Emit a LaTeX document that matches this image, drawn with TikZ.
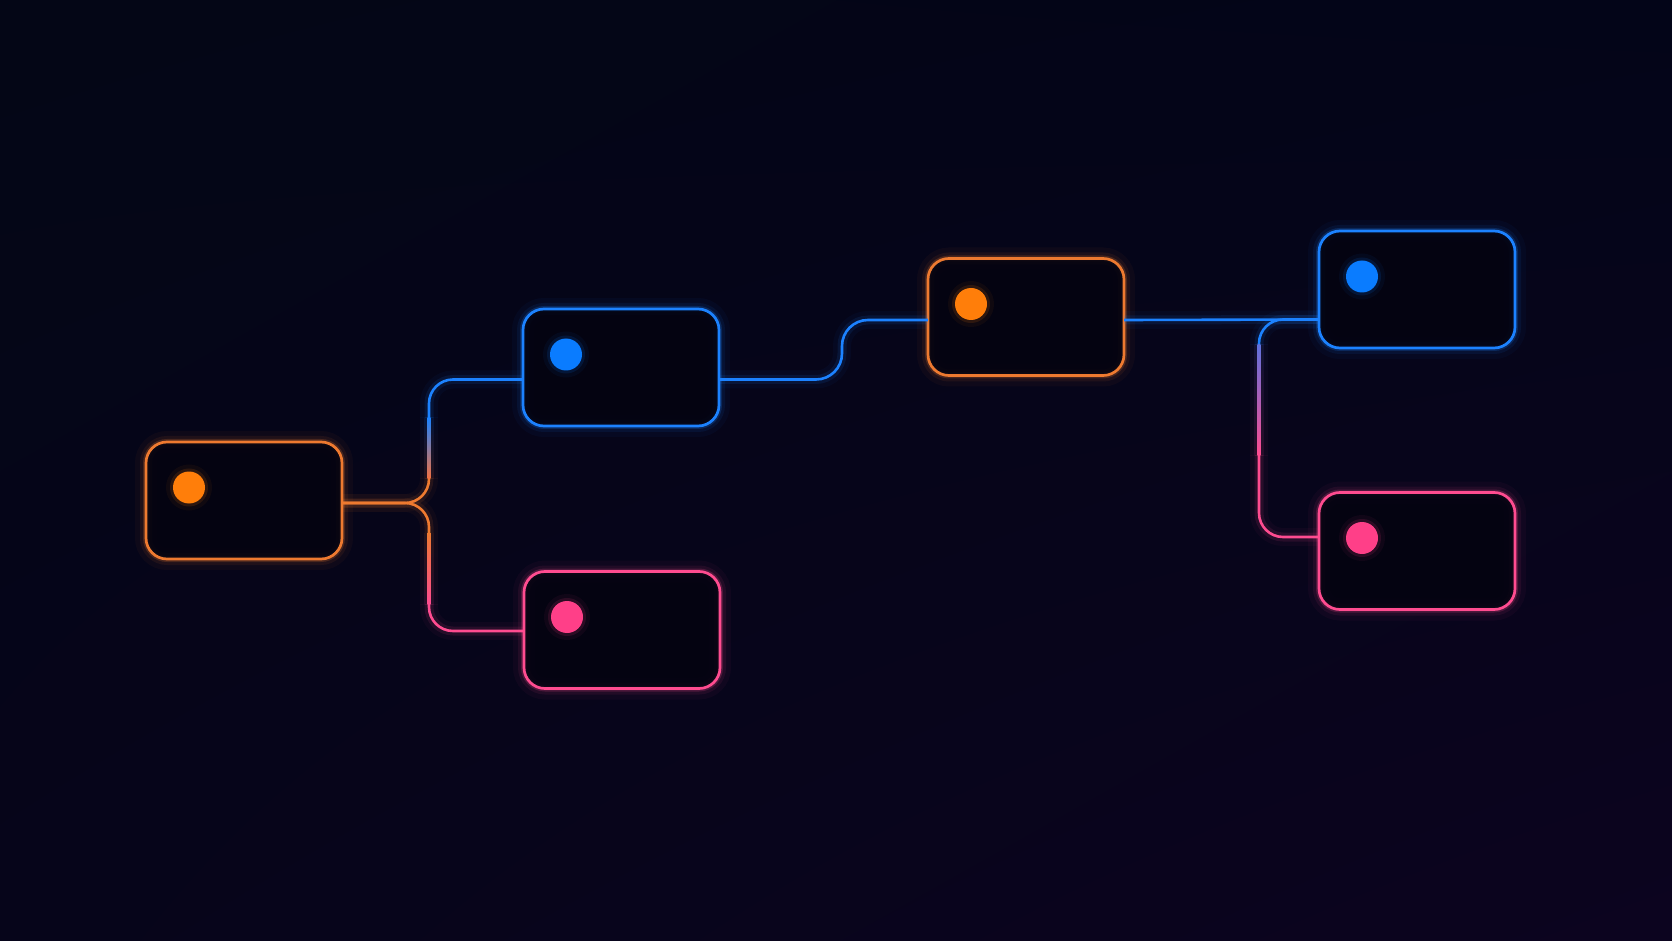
\documentclass[tikz,border=0pt]{standalone}
\usetikzlibrary{shadings}
\definecolor{ember}{HTML}{EE7A30}
\definecolor{emberdot}{HTML}{FF7E0A}
\definecolor{azure}{HTML}{1C82FF}
\definecolor{azuredot}{HTML}{0A7CFF}
\definecolor{rose}{HTML}{FF4C90}
\definecolor{rosedot}{HTML}{FF3F88}
\definecolor{cardfill}{HTML}{040310}
\definecolor{bgul}{HTML}{040616}
\definecolor{bgur}{HTML}{030518}
\definecolor{bgll}{HTML}{06051A}
\definecolor{bglr}{HTML}{0C041F}
\newcommand\fadebar[4]{%
  \shade[top color=#3,bottom color=#4,opacity=.04] ([xshift=-4.5pt]#1) rectangle ([xshift=4.5pt]#2);
  \shade[top color=#3,bottom color=#4,opacity=.1] ([xshift=-2.25pt]#1) rectangle ([xshift=2.25pt]#2);
  \shade[top color=#3,bottom color=#4] ([xshift=-.65pt]#1) rectangle ([xshift=.65pt]#2);}
\begin{document}
\begin{tikzpicture}
[x=0.5pt,y=-0.5pt,
every node/.style={inner sep=0pt,outer sep=0pt},
card/.style={draw=#1,line width=1.35pt,rounded corners=10.5pt,
  minimum width=98pt,minimum height=58.5pt,fill=cardfill,fill opacity=.85,
  preaction={draw=#1,line width=11pt,draw opacity=.04},
  preaction={draw=#1,line width=6pt,draw opacity=.08},
  preaction={draw=#1,line width=3pt,draw opacity=.2}},
pin/.style={circle,fill=#1,minimum size=16pt,
  preaction={draw=#1,line width=7pt,draw opacity=.05},
  preaction={draw=#1,line width=3pt,draw opacity=.12}},
wire/.style={draw=#1,line width=1.3pt,rounded corners=12pt,
  preaction={draw=#1,line width=9pt,draw opacity=.04},
  preaction={draw=#1,line width=4.5pt,draw opacity=.1}}]
\useasboundingbox (0,0) rectangle (1672,941);
\shade[upper left=bgul,upper right=bgur,lower left=bgll,lower right=bglr] (0,0) rectangle (1672,941);

\coordinate (j1) at (429,503);
\coordinate (j2) at (842,350);
\coordinate (j3) at (1259,320);

\node[card=ember] (b1) at (244,500.5) {};
\node[card=azure] (b2) at (621,367.5) {};
\node[card=rose] (b6) at (622,630) {};
\node[card=ember] (b3) at (1026,317) {};
\node[card=azure] (b4) at (1417,289.5) {};
\node[card=rose] (b5) at (1417,551) {};

\node[pin=emberdot] (d1) at ([shift={(43,45.5)}]b1.north west) {};
\node[pin=azuredot] (d2) at ([shift={(43,45.5)}]b2.north west) {};
\node[pin=rosedot] (d6) at ([shift={(43,45.5)}]b6.north west) {};
\node[pin=emberdot] (d3) at ([shift={(43,45.5)}]b3.north west) {};
\node[pin=azuredot] (d4) at ([shift={(43,45.5)}]b4.north west) {};
\node[pin=rosedot] (d5) at ([shift={(43,45.5)}]b5.north west) {};

\coordinate (b1o) at ([shift={(0,2.5)}]b1.east);
\coordinate (b2i) at ([shift={(0,12)}]b2.west);
\coordinate (b2o) at ([shift={(0,12)}]b2.east);
\coordinate (b6i) at ([shift={(0,1)}]b6.west);
\coordinate (b3i) at ([shift={(0,3)}]b3.west);
\coordinate (b3o) at ([shift={(0,3)}]b3.east);
\coordinate (b4i) at ([shift={(0,30)}]b4.west);
\coordinate (b5i) at ([shift={(0,-14)}]b5.west);

\coordinate (g1) at (429,418);
\coordinate (g2) at (429,478);
\coordinate (g3) at (429,532);
\coordinate (g4) at (429,604);
\coordinate (g5) at (1259,345);
\coordinate (g6) at (1259,455);

\draw[wire=azure] (b2i) -- (b2i -| g1) -- (g1);
\draw[wire=ember] (b1o) -- (b1o -| g2) -- (g2);
\fadebar{g1}{g2}{azure}{ember!80!rose}
\draw[wire=ember] (b1o) -- (b1o -| g3) -- (g3);
\draw[wire=rose] (b6i) -- (b6i -| g4) -- (g4);
\fadebar{g3}{g4}{ember}{rose}
\draw[wire=azure,rounded corners=13pt] (b2o) -- (b2o -| j2) -- (j2 |- b3i) -- (b3i);
\draw[wire=azure] (b3o) -- (b4i);
\draw[wire=azure] (b4i) -- (b4i -| g5) -- (g5);
\draw[wire=rose] (b5i) -- (b5i -| g6) -- (g6);
\fadebar{g5}{g6}{azure!70!rose}{rose}
\end{tikzpicture}
\end{document}
